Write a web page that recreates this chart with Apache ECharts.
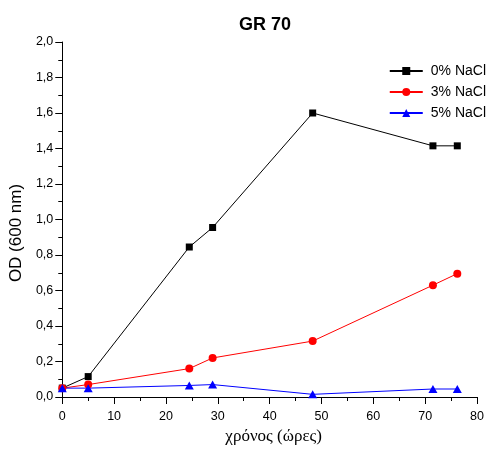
<!DOCTYPE html>
<html><head><meta charset="utf-8">
<script src="https://cdn.jsdelivr.net/npm/echarts@6/dist/echarts.min.js"></script>
<style>html,body{margin:0;padding:0;background:#fff}#c{width:494px;height:460px}</style>
</head><body><div id="c"></div>
<script>
const hours = [0, 5, 24.5, 29, 48.3, 71.5, 76.2];
const nacl0 = [0.05, 0.115, 0.845, 0.955, 1.60, 1.415, 1.415];
const nacl3 = [0.05, 0.07, 0.16, 0.22, 0.315, 0.63, 0.695];
const nacl5 = [0.05, 0.05, 0.065, 0.07, 0.015, 0.045, 0.045];
const seriesNames = ['0% NaCl', '3% NaCl', '5% NaCl'];
const title = 'GR 70';
const xName = 'χρόνος (ώρες)';
const yName = 'OD (600 nm)';

const pair = (ys) => hours.map((h, i) => [h, ys[i]]);
const chart = echarts.init(document.getElementById('c'));
const mk = (name, data, color, symbol, size) => ({
  name, type: 'line', data: pair(data), symbol, symbolSize: size,
  itemStyle: {color}, lineStyle: {color, width: 1}, animation: false
});
chart.setOption({
  animation: false,
  title: {text: title, left: 260, top: 11, textAlign: 'center',
    textStyle: {fontFamily: 'Liberation Sans', fontWeight: 'bold', fontSize: 18, color: '#000'}},
  legend: {right: 3, top: 59, orient: 'vertical', itemGap: 7, itemWidth: 33, itemHeight: 10,
    textStyle: {fontFamily: 'Liberation Sans', fontSize: 14, lineHeight: 14, color: '#000', padding: [0, 0, 0, 3]},
    data: seriesNames},
  grid: {left: 61, right: 17, top: 42, bottom: 63},
  xAxis: {type: 'value', min: 0, max: 80, interval: 10,
    name: xName, nameLocation: 'middle', nameGap: 22,
    nameTextStyle: {fontFamily: 'Liberation Serif', fontSize: 17, color: '#000', padding: [0, 0, 0, 8]},
    axisLine: {onZero: false, lineStyle: {color: '#000', width: 1}},
    axisTick: {inside: false, length: 7, lineStyle: {color: '#000'}},
    minorTick: {show: true, splitNumber: 2, length: 4, lineStyle: {color: '#000'}},
    axisLabel: {fontFamily: 'Liberation Sans', fontSize: 12.5, color: '#000', margin: 13},
    splitLine: {show: false}},
  yAxis: {type: 'value', min: 0, max: 2, interval: 0.2,
    name: yName, nameLocation: 'middle', nameGap: 34,
    nameTextStyle: {fontFamily: 'Liberation Sans', fontSize: 17, color: '#000', padding: [0, 27, 0, 0]},
    axisLine: {show: true, onZero: false, lineStyle: {color: '#000', width: 1}},
    axisTick: {show: true, inside: false, length: 7, lineStyle: {color: '#000'}},
    minorTick: {show: true, splitNumber: 2, length: 4, lineStyle: {color: '#000'}},
    axisLabel: {fontFamily: 'Liberation Sans', fontSize: 12.5, color: '#000', margin: 9,
      formatter: v => v.toFixed(1).replace('.', ',')},
    splitLine: {show: false}},
  series: [
    mk(seriesNames[0], nacl0, '#000000', 'rect', 7),
    mk(seriesNames[1], nacl3, '#ff0000', 'circle', 8),
    mk(seriesNames[2], nacl5, '#0000ff', 'triangle', [9, 8])
  ]
});
</script></body></html>
